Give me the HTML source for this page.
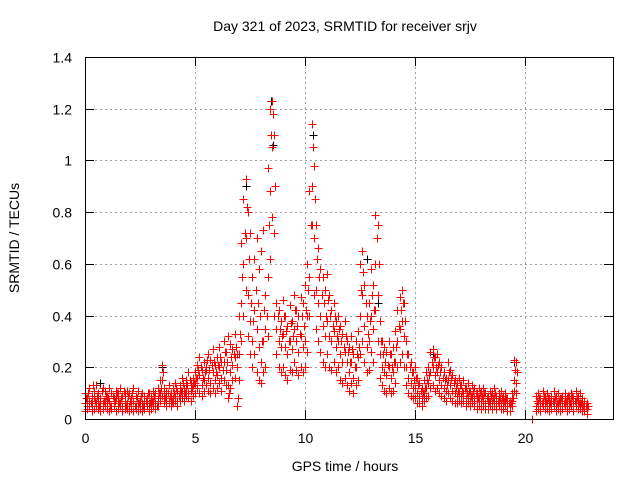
<!DOCTYPE html>
<html><head><meta charset="utf-8"><style>
body{margin:0;background:#fff;}
svg{display:block;font-family:"Liberation Sans",sans-serif;}
</style></head><body>
<svg id="chart" width="640" height="480" viewBox="0 0 640 480">
<rect x="0" y="0" width="640" height="480" fill="#fff"/>
<text x="345" y="31" font-size="14" text-anchor="middle">Day 321 of 2023, SRMTID for receiver srjv</text>
<text transform="translate(19,238) rotate(-90)" font-size="14" text-anchor="middle">SRMTID / TECUs</text>
<text x="345" y="471" font-size="14" text-anchor="middle">GPS time / hours</text>
<g id="grid"></g><g id="marks" shape-rendering="crispEdges"></g><g id="axes" shape-rendering="crispEdges"></g>
</svg>
<script>
const xTicks=[0,5,10,15,20];
const yTicks=[0,0.2,0.4,0.6,0.8,1,1.2,1.4];
const yTickLabels=["0","0.2","0.4","0.6","0.8","1","1.2","1.4"];
const tStart=0, tStep=0.1, tStartD=0.05;
const seriesA=[.10,.08,.12,.09,.11,.13,.10,.08,.12,.11,.09,.12,.10,.08,.11,.10,.12,.09,.10,.11,.10,.08,.12,.09,.11,.07,.10,.09,.08,.10,.09,.11,.10,.12,.15,.21,.12,.11,.13,.10,.12,.14,.11,.13,.16,.12,.15,.18,.14,.16,.18,.21,.24,.19,.22,.20,.25,.23,.27,.21,.24,.28,.22,.30,.26,.32,.29,.27,.33,.25,.40,.68,.85,.93,.80,.72,.55,.62,.70,.58,.65,.73,.48,.97,1.20,1.23,1.10,.45,.42,.38,.46,.40,.36,.44,.38,.48,.42,.40,.47,.45,.52,.60,.88,1.14,.98,.75,.66,.58,.55,.50,.56,.48,.42,.45,.38,.40,.36,.33,.38,.30,.28,.32,.25,.30,.34,.60,.65,.52,.40,.45,.58,.52,.79,.75,.38,.30,.28,.26,.30,.25,.28,.34,.42,.47,.50,.45,.30,.25,.22,.18,.20,.16,.14,.12,.15,.18,.20,.26,.27,.24,.25,.22,.20,.18,.16,.22,.19,.17,.15,.14,.16,.13,.15,.12,.14,.11,.13,.12,.10,.12,.11,.12,.10,.09,.11,.10,.12,.09,.10,.11,.09,.10,.08,.07,.10,.23,.22,null,null,null,null,null,null,.00,null,.09,.10,.08,.11,.09,.10,.08,.09,.11,.09,.10,.08,.09,.10,.08,.09,.10,.08,.11,.09,.10,.08,.07,.06,null];
const seriesB=[.06,.05,.07,.06,.08,.06,.07,.05,.06,.07,.06,.07,.05,.06,.08,.07,.06,.05,.07,.06,.05,.06,.07,.05,.06,.05,.06,.07,.05,.06,.06,.07,.06,.08,.10,.15,.09,.08,.07,.08,.08,.09,.07,.10,.11,.09,.12,.10,.11,.13,.14,.16,.17,.13,.15,.19,.16,.14,.18,.15,.17,.20,.16,.22,.19,.13,.18,.21,.24,.20,.25,.45,.60,.70,.48,.38,.30,.42,.35,.28,.22,.30,.35,.55,.88,1.05,.72,.35,.30,.28,.33,.28,.25,.30,.27,.35,.30,.26,.32,.28,.30,.40,.55,.90,.70,.50,.45,.40,.36,.32,.38,.32,.30,.34,.28,.30,.25,.22,.26,.22,.18,.22,.16,.20,.24,.40,.48,.36,.28,.30,.40,.35,.60,.48,.25,.20,.18,.17,.20,.16,.18,.22,.30,.35,.38,.32,.20,.16,.14,.12,.12,.10,.09,.08,.10,.12,.14,.18,.20,.17,.18,.15,.13,.12,.11,.15,.13,.11,.10,.09,.10,.09,.10,.08,.09,.07,.09,.08,.07,.08,.07,.08,.06,.06,.07,.06,.08,.06,.07,.06,.06,.07,.05,.05,.07,.15,.14,null,null,null,null,null,null,null,null,.05,.06,.05,.07,.06,.06,.05,.06,.07,.05,.06,.05,.06,.07,.05,.06,.07,.05,.07,.06,.06,.05,.05,.04,null];
const seriesC=[.03,.04,.05,.03,.04,.05,.04,.03,.04,.05,.04,.03,.04,.05,.03,.04,.05,.03,.04,.04,.03,.04,.03,.04,.03,.04,.03,.04,.05,.03,.04,.05,.04,.05,.07,.09,.06,.05,.06,.05,.06,.07,.05,.07,.08,.07,.09,.08,.07,.09,.10,.12,.10,.09,.11,.13,.11,.10,.12,.10,.12,.14,.11,.15,.13,.08,.12,.15,.16,.05,.15,.30,.40,.50,.32,.25,.20,.25,.18,.15,.14,.18,.20,.32,.62,.78,.40,.25,.20,.18,.20,.17,.15,.19,.18,.22,.19,.17,.20,.18,.20,.26,.40,.75,.48,.35,.30,.26,.22,.20,.25,.20,.19,.22,.18,.20,.15,.14,.16,.13,.11,.14,.10,.13,.15,.25,.30,.22,.18,.19,.26,.22,.42,.30,.16,.13,.11,.10,.12,.10,.11,.14,.20,.22,.25,.20,.13,.10,.09,.08,.08,.06,.06,.05,.07,.08,.09,.12,.13,.11,.12,.10,.09,.08,.07,.10,.08,.07,.06,.06,.07,.06,.07,.05,.06,.05,.06,.05,.04,.05,.04,.05,.04,.04,.05,.04,.05,.04,.05,.04,.04,.05,.03,.03,.05,.11,.10,null,null,null,null,null,null,null,null,.03,.04,.03,.05,.04,.04,.03,.04,.05,.03,.04,.03,.04,.05,.03,.04,.05,.03,.05,.04,.04,.03,.03,.02,null];
const seriesD=[.08,.10,.06,.13,.07,.09,.05,.11,.07,.09,.08,.05,.09,.07,.10,.06,.08,.11,.05,.09,.07,.10,.05,.08,.06,.09,.05,.07,.10,.06,.07,.09,.05,.10,.12,.18,.08,.10,.09,.07,.10,.12,.09,.11,.14,.10,.13,.15,.12,.14,.16,.19,.20,.16,.18,.23,.19,.21,.22,.18,.21,.24,.19,.26,.22,.10,.24,.25,.28,.08,.33,.55,.72,.82,.62,.45,.38,.50,.45,.40,.30,.42,.40,.75,1.10,1.18,.90,.40,.35,.32,.40,.34,.30,.37,.32,.42,.36,.33,.40,.36,.42,.50,.75,1.05,.85,.62,.55,.48,.45,.40,.46,.40,.36,.40,.32,.35,.30,.28,.32,.26,.22,.27,.20,.25,.28,.50,.57,.45,.33,.38,.48,.42,.70,.60,.30,.25,.22,.21,.25,.20,.22,.28,.36,.42,.45,.38,.25,.20,.18,.15,.16,.13,.11,.10,.12,.15,.17,.22,.24,.20,.21,.18,.16,.15,.13,.18,.16,.14,.12,.11,.13,.11,.12,.10,.11,.09,.11,.10,.08,.10,.09,.10,.08,.07,.09,.08,.10,.07,.08,.08,.07,.08,.06,.06,.08,.19,.18,null,null,null,null,null,null,null,null,.07,.08,.06,.09,.07,.08,.06,.07,.08,.06,.07,.08,.06,.07,.09,.06,.09,.07,.08,.06,.06,.05,.05,.05,null];
const blackTimes=[0.7,3.5,7.3,8.45,8.55,10.35,12.8,13.3,15.8,19.5];
const blackValues=[0.14,0.2,0.9,1.23,1.06,1.1,0.62,0.45,0.25,0.22];

const X0=85,X1=613,Y0=419,Y1=57,XMAX=24,YMAX=1.4;
const xs=v=>X0+(v/XMAX)*(X1-X0);
const ys=v=>Y0-(v/YMAX)*(Y0-Y1);
const NS="http://www.w3.org/2000/svg";
function mk(tag,attrs,parent){const e=document.createElementNS(NS,tag);for(const k in attrs)e.setAttribute(k,attrs[k]);parent.appendChild(e);return e;}
const grid=document.getElementById('grid'),marks=document.getElementById('marks'),axes=document.getElementById('axes');
yTicks.forEach((v,i)=>{const y=Math.round(ys(v))+0.5;
 if(i>0&&i<yTicks.length-1){const l=mk('line',{x1:X0,x2:X1,y1:y,y2:y,stroke:'#a0a0a0','stroke-dasharray':'2,3','stroke-width':1},grid);}
 const t=mk('text',{x:X0-13,y:y+5,'font-size':14,'text-anchor':'end'},axes);t.textContent=yTickLabels[i];
 
 mk('line',{x1:X0,x2:X0+9,y1:y,y2:y,stroke:'#000'},axes);mk('line',{x1:X1,x2:X1-9,y1:y,y2:y,stroke:'#000'},axes);});
xTicks.forEach(v=>{const x=Math.round(xs(v))+0.5;
 if(v>0){const l=mk('line',{x1:x,x2:x,y1:Y0,y2:Y1,stroke:'#a0a0a0','stroke-dasharray':'2,3','stroke-width':1},grid);}
 const t=mk('text',{x:x,y:Y0+24,'font-size':14,'text-anchor':'middle'},axes);t.textContent=String(v);
 
 mk('line',{x1:x,x2:x,y1:Y0,y2:Y0-9,stroke:'#000'},axes);mk('line',{x1:x,x2:x,y1:Y1,y2:Y1+9,stroke:'#000'},axes);});
const fr=mk('rect',{x:X0+0.5,y:Y1+0.5,width:X1-X0,height:Y0-Y1,fill:'none',stroke:'#000'},axes);

function plus(t,v,col,name){const x=Math.round(xs(t))+0.5,y=Math.round(ys(v))+0.5;
 const p=mk('path',{d:`M${x-4} ${y}H${x+4}M${x} ${y-4}V${y+4}`,stroke:col,'stroke-width':1.2,fill:'none'},marks);
 }
blackTimes.forEach((t,i)=>plus(t,blackValues[i],'#000','black-point'));
[seriesA,seriesB,seriesC].forEach(s=>s.forEach((v,i)=>{if(v!==null)plus(tStart+i*tStep,v,'#ff0000','srmtid-point');}));
seriesD.forEach((v,i)=>{if(v!==null)plus(tStartD+i*tStep,v,'#ff0000','srmtid-point');});
</script>
</body></html>
